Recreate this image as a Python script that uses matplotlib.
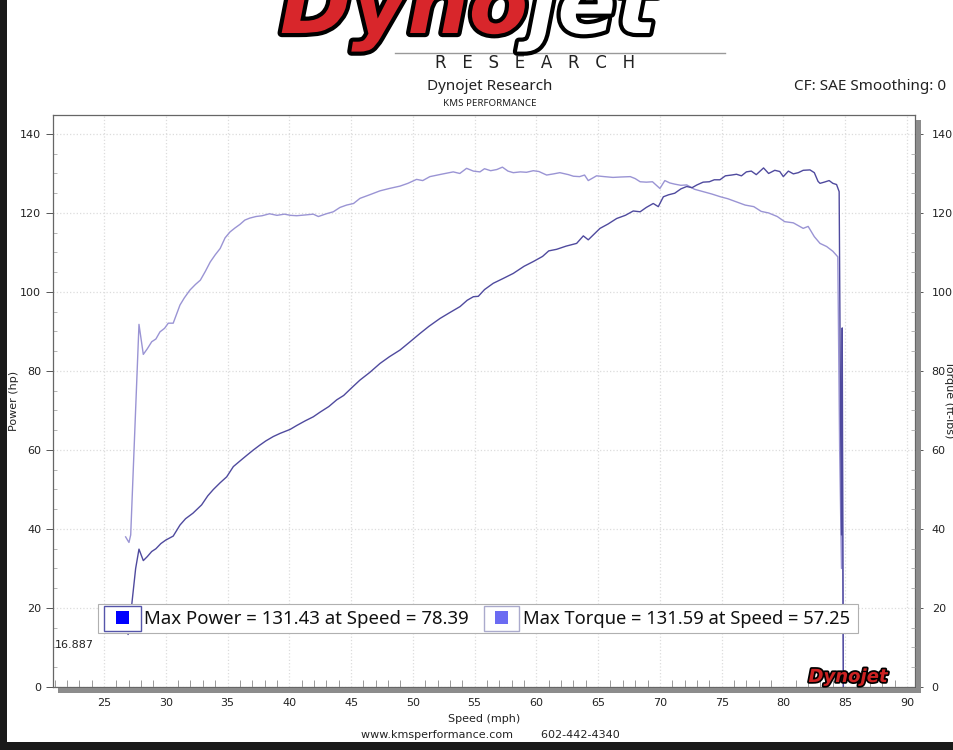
# ============================================================
# DYNO SHEET - POWER / TORQUE VS SPEED
# ============================================================

import matplotlib
matplotlib.use("Agg")
import matplotlib.pyplot as plt
import matplotlib.patheffects as pe
from matplotlib.patches import Rectangle
from matplotlib.ticker import MultipleLocator

# ============================================================
# 1. DADOS
# ============================================================

power_speed = [
    26.85, 26.95, 27.05, 27.25, 27.56, 27.83, 28.18, 28.5, 28.86, 29.2,
    29.6, 30.0, 30.6, 31.15, 31.6, 32.2, 32.9, 33.4, 33.85, 34.4,
    34.93, 35.47, 36.0, 36.5, 37.09, 37.6, 38.1, 38.7, 39.25, 40.06,
    40.6, 41.3, 41.94, 42.5, 43.2, 43.84, 44.4, 45.0, 45.72, 46.5,
    47.34, 48.1, 48.96, 49.7, 50.58, 51.3, 52.2, 53.0, 53.82, 54.4,
    54.9, 55.3, 55.8, 56.51, 57.3, 58.13, 59.0, 59.75, 60.5, 61.0,
    61.64, 62.4, 63.26, 63.8, 64.2, 65.15, 65.8, 66.5, 67.2, 67.84,
    68.4, 68.9, 69.46, 69.87, 70.28, 70.7, 71.2, 71.7, 72.17, 72.6,
    73.0, 73.5, 74.0, 74.4, 74.86, 75.3, 75.8, 76.2, 76.6, 77.0,
    77.4, 77.8, 78.39, 78.8, 79.3, 79.7, 79.99, 80.4, 80.8, 81.2,
    81.6, 82.15, 82.5, 82.8, 82.96, 83.3, 83.7, 84.0, 84.3, 84.51,
    84.62, 84.7, 84.76, 84.8, 84.85,
]

power_hp = [
    14.2, 13.3, 14.6, 21.0, 30.0, 34.9, 32.0, 33.0, 34.3, 35.0,
    36.3, 37.2, 38.2, 41.0, 42.6, 44.0, 46.1, 48.4, 50.0, 51.7,
    53.2, 55.8, 57.2, 58.5, 60.0, 61.2, 62.3, 63.4, 64.2, 65.2,
    66.2, 67.4, 68.4, 69.6, 71.0, 72.7, 73.8, 75.6, 77.7, 79.6,
    81.9, 83.6, 85.3, 87.2, 89.5, 91.3, 93.3, 94.8, 96.3, 97.9,
    98.8, 98.9, 100.6, 102.2, 103.4, 104.7, 106.5, 107.7, 109.0, 110.4,
    110.8, 111.6, 112.3, 114.2, 113.2, 116.1, 117.2, 118.6, 119.4, 120.5,
    120.3, 121.4, 122.4, 121.6, 124.1, 124.6, 125.0, 126.1, 126.7, 126.4,
    127.1, 127.8, 127.9, 128.4, 128.4, 129.4, 129.6, 129.8, 129.4, 130.4,
    130.6, 129.7, 131.4, 130.0, 130.8, 130.5, 129.2, 130.6, 129.9, 130.2,
    130.8, 130.9, 130.2, 128.0, 127.5, 127.8, 128.2, 127.5, 127.2, 125.4,
    70.0, 38.5, 90.9, 45.0, 0.0,
]

torque_speed = [
    26.75, 26.9, 27.02, 27.16, 27.83, 28.18, 28.5, 28.86, 29.2, 29.53,
    29.9, 30.2, 30.6, 31.15, 31.5, 31.96, 32.4, 32.8, 33.2, 33.6,
    34.0, 34.4, 34.8, 35.2, 35.6, 36.0, 36.4, 36.8, 37.3, 37.8,
    38.4, 39.0, 39.6, 40.1, 40.6, 41.3, 41.94, 42.35, 43.0, 43.56,
    44.1, 44.64, 45.2, 45.72, 46.5, 47.34, 48.1, 48.96, 49.6, 50.3,
    50.8, 51.38, 52.3, 53.27, 53.8, 54.35, 54.9, 55.43, 55.8, 56.3,
    56.8, 57.25, 57.7, 58.13, 58.7, 59.2, 59.75, 60.2, 60.83, 61.4,
    61.9, 62.6, 63.0, 63.5, 63.9, 64.2, 64.87, 65.5, 66.2, 66.8,
    67.6, 68.0, 68.4, 68.9, 69.4, 70.0, 70.4, 70.8, 71.2, 71.7,
    72.17, 72.8, 73.5, 74.2, 74.9, 75.5, 76.2, 76.9, 77.6, 78.2,
    78.8, 79.5, 80.1, 80.8, 81.6, 82.0, 82.5, 82.96, 83.5, 84.0,
    84.4, 84.55, 84.7, 84.76, 84.8, 84.85,
]

torque_ftlb = [
    38.0, 37.2, 36.6, 38.5, 91.8, 84.2, 85.6, 87.4, 88.1, 89.9,
    90.8, 92.1, 92.1, 96.7, 98.5, 100.5, 101.9, 103.0, 105.2, 107.6,
    109.4, 111.0, 113.7, 115.2, 116.2, 117.1, 118.2, 118.7, 119.1, 119.3,
    119.8, 119.4, 119.7, 119.4, 119.3, 119.5, 119.7, 119.1, 119.8, 120.3,
    121.4, 122.0, 122.4, 123.7, 124.6, 125.6, 126.2, 126.8, 127.5, 128.5,
    128.2, 129.2, 129.8, 130.4, 130.0, 131.3, 130.6, 130.4, 131.2, 130.7,
    131.0, 131.6, 130.6, 130.2, 130.4, 130.3, 130.7, 130.5, 129.6, 129.9,
    130.2, 129.7, 129.3, 129.2, 129.6, 128.2, 129.4, 129.2, 129.0, 129.1,
    129.2, 128.7, 127.9, 127.8, 127.9, 126.2, 128.2, 127.6, 127.3, 127.0,
    127.1, 126.0, 125.4, 124.8, 124.1, 123.6, 122.8, 122.0, 121.6, 120.4,
    120.0, 119.1, 117.8, 117.5, 116.1, 116.6, 114.0, 112.3, 111.5, 110.3,
    108.9, 60.0, 30.0, 65.0, 35.0, 0.0,
]

x_ticks = [25, 30, 35, 40, 45, 50, 55, 60, 65, 70, 75, 80, 85, 90]
y_ticks = [0, 20, 40, 60, 80, 100, 120, 140]

max_power_text = "Max Power = 131.43 at Speed = 78.39"
max_torque_text = "Max Torque = 131.59 at Speed = 57.25"

# ============================================================
# 2. FIGURA
# ============================================================

plt.rcParams["font.family"] = ["DejaVu Sans"]

COR_POWER = "#4f4a9e"
COR_TORQUE = "#9a94d4"
COR_TEXTO = "#222222"

fig = plt.figure(figsize=(9.54, 7.5), dpi=100)
fig.patch.set_facecolor("white")

W, H = 954, 750


def fx(px):
    return px / W


def fy(py):
    return 1 - py / H


ax = fig.add_axes([fx(53), fy(687), fx(915) - fx(53), fy(115) - fy(687)])

ax.plot(power_speed, power_hp, color=COR_POWER, linewidth=1.0, zorder=3)
ax.plot(torque_speed, torque_ftlb, color=COR_TORQUE, linewidth=1.0, zorder=2)

ax.set_xlim(20.87, 90.65)
ax.set_ylim(0, 144.8)

ax.set_xticks(x_ticks)
ax.set_yticks(y_ticks)
ax.xaxis.set_minor_locator(MultipleLocator(1))
ax.yaxis.set_minor_locator(MultipleLocator(5))

ax.tick_params(axis="both", which="major", labelsize=8, colors="#555555",
               labelcolor=COR_TEXTO, length=5, width=0.7)
ax.tick_params(axis="x", which="major", direction="in", length=0, pad=8)
ax.tick_params(axis="x", which="minor", direction="in", length=5,
               color="#999999", width=0.7)
ax.tick_params(axis="y", which="minor", direction="in", length=3,
               color="#aaaaaa", width=0.6)

ax.grid(True, which="major", color="#dcdcdc", linestyle=":", linewidth=0.9)

for lado in ["left", "bottom", "top", "right"]:
    ax.spines[lado].set_color("#666666")
    ax.spines[lado].set_linewidth(0.9)

ax.set_ylabel("Power (hp)", fontsize=8, color=COR_TEXTO)
ax.yaxis.set_label_coords(-0.039, 0.5)
ax.set_xlabel("Speed (mph)", fontsize=8, color=COR_TEXTO, labelpad=4)

# eixo da direita (torque)
ax2 = ax.twinx()
ax2.set_ylim(0, 144.8)
ax2.set_yticks(y_ticks)
ax2.yaxis.set_minor_locator(MultipleLocator(5))
ax2.tick_params(axis="y", which="major", labelsize=8, length=6, width=0.7,
                color="#555555", labelcolor=COR_TEXTO, pad=6)
ax2.tick_params(axis="y", which="minor", direction="in", length=3,
                color="#aaaaaa", width=0.6)
for lado in ["left", "bottom", "top", "right"]:
    ax2.spines[lado].set_visible(False)

fig.text(fx(944), fy(400), "Torque (ft-lbs)", rotation=270, fontsize=8,
         color=COR_TEXTO, ha="left", va="center")

# ============================================================
# 3. SOMBRAS DO QUADRO
# ============================================================

fig.patches.append(Rectangle((fx(58), fy(693)), fx(921) - fx(58),
                             fy(688) - fy(693), transform=fig.transFigure,
                             facecolor="#8c8c8c", edgecolor="none"))
fig.patches.append(Rectangle((fx(916), fy(693)), fx(921) - fx(916),
                             fy(120) - fy(693), transform=fig.transFigure,
                             facecolor="#8c8c8c", edgecolor="none"))

# ============================================================
# 4. LEGENDA (caixa com quadrados)
# ============================================================

ax.add_patch(Rectangle((fx(98), fy(633)), fx(858) - fx(98),
                       fy(604) - fy(633), transform=fig.transFigure,
                       facecolor="white", edgecolor="#b0b0b0",
                       linewidth=0.8, zorder=5))

ax.add_patch(Rectangle((fx(104), fy(631)), fx(141) - fx(104),
                       fy(606) - fy(631), transform=fig.transFigure,
                       facecolor="white", edgecolor="#5555aa",
                       linewidth=1.0, zorder=6))
ax.add_patch(Rectangle((fx(116), fy(624)), fx(129) - fx(116),
                       fy(611) - fy(624), transform=fig.transFigure,
                       facecolor="#0000ff", edgecolor="none", zorder=7))

ax.add_patch(Rectangle((fx(484), fy(631)), fx(519) - fx(484),
                       fy(606) - fy(631), transform=fig.transFigure,
                       facecolor="white", edgecolor="#aaaacc",
                       linewidth=1.0, zorder=6))
ax.add_patch(Rectangle((fx(495), fy(624)), fx(508) - fx(495),
                       fy(611) - fy(624), transform=fig.transFigure,
                       facecolor="#6b6bf2", edgecolor="none", zorder=7))

fig.text(fx(144), fy(619), max_power_text, fontsize=13.4, color="#111111",
         ha="left", va="center", family="Noto Sans", zorder=8)
fig.text(fx(523), fy(619), max_torque_text, fontsize=13.2, color="#111111",
         ha="left", va="center", family="Noto Sans", zorder=8)

fig.text(fx(55), fy(645), "16.887", fontsize=8, color=COR_TEXTO,
         ha="left", va="center")

# logo pequeno no canto
contorno = [pe.withStroke(linewidth=2.5, foreground="black")]
fig.text(fx(848), fy(682), "Dynojet", fontsize=13, fontweight="bold",
         style="italic", color="#cc2222", ha="center", va="baseline",
         path_effects=contorno)

# ============================================================
# 5. CABECALHO
# ============================================================

contorno_grande = [pe.withStroke(linewidth=6, foreground="black")]
fig.text(fx(528), fy(33), "Dyno", fontsize=62, fontweight="bold",
         style="italic", color="#d8262b", ha="right", va="baseline",
         path_effects=contorno_grande)
fig.text(fx(528), fy(33), "jet", fontsize=62, fontweight="bold",
         style="italic", color="white", ha="left", va="baseline",
         path_effects=contorno_grande)

fig.add_artist(plt.Line2D([fx(395), fx(725)], [fy(53), fy(53)],
                          transform=fig.transFigure, color="#999999",
                          linewidth=1.0))

fig.text(fx(535), fy(63), "R   E   S   E   A   R   C   H", fontsize=12,
         color=COR_TEXTO, ha="center", va="center")

fig.text(fx(490), fy(87), "Dynojet Research", fontsize=11,
         color=COR_TEXTO, ha="center", va="center", family="Noto Sans")
fig.text(fx(490), fy(103), "KMS PERFORMANCE", fontsize=7,
         color=COR_TEXTO, ha="center", va="center", family="Noto Sans")

fig.text(fx(794), fy(87), "CF: SAE Smoothing: 0", fontsize=11,
         color=COR_TEXTO, ha="left", va="center", family="Noto Sans")

fig.text(fx(490), fy(735), "www.kmsperformance.com        602-442-4340",
         fontsize=8, color=COR_TEXTO, ha="center", va="center")

# ============================================================
# 6. BORDA PRETA DA CAPTURA
# ============================================================

fig.patches.append(Rectangle((0, 0), fx(7), 1, transform=fig.transFigure,
                             facecolor="#1a1a1a", edgecolor="none"))
fig.patches.append(Rectangle((0, 0), 1, fy(742),
                             transform=fig.transFigure,
                             facecolor="#1a1a1a", edgecolor="none"))

# ============================================================
# 7. EXPORTAR
# ============================================================

fig.savefig("out.png", dpi=100)
plt.close(fig)
